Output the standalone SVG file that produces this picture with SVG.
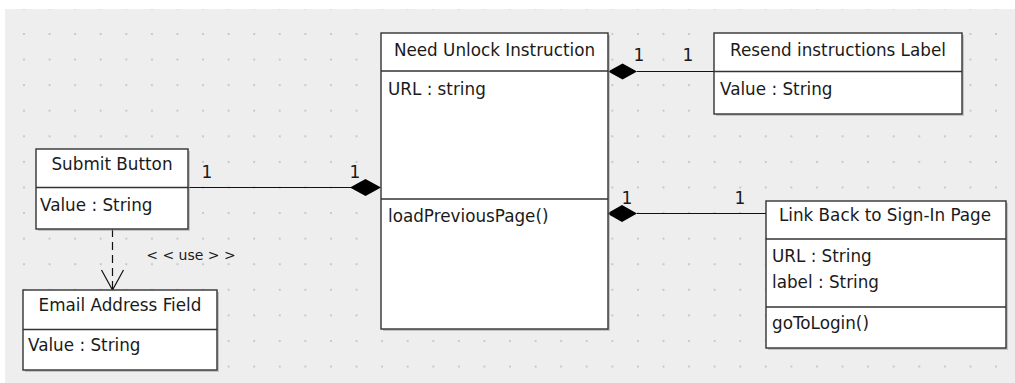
<svg xmlns="http://www.w3.org/2000/svg" width="1015" height="383" viewBox="0 0 1015 383">
<style>
text{font-family:"DejaVu Sans","Liberation Sans",sans-serif;font-size:16.8px;fill:#1a1a1a}
.t{text-anchor:middle}
.box{fill:#fff;stroke:#333;stroke-width:1.4}
.sh{fill:#999;opacity:0.5}
.sep{stroke:#333;stroke-width:1.3}
.ln{stroke:#111;stroke-width:1.2;fill:none}
.dash{stroke:#111;stroke-width:1.2;fill:none;stroke-dasharray:8 5}
.dia{fill:#000}
.m{font-size:17px}
.u{font-size:14px}
</style>
<defs>
<pattern id="grid" patternUnits="userSpaceOnUse" x="23" y="33" width="25.58" height="25.58">
<rect x="0" y="0" width="2" height="2" fill="#c9c9c9"/>
</pattern>
</defs>
<rect x="0" y="0" width="1015" height="383" fill="#fff"/>
<rect x="5" y="9" width="1010" height="374" fill="#eeeeee"/>
<rect x="5" y="9" width="1010" height="374" fill="url(#grid)"/>

<g id="connectors">
<line class="ln" x1="637" y1="71.5" x2="714" y2="71.5"/>
<polygon class="dia" points="608,71.5 622.5,63.5 637,71.5 622.5,79.5"/>
<line class="ln" x1="188" y1="187.5" x2="351" y2="187.5"/>
<polygon class="dia" points="350,187.5 365.5,179 381,187.5 365.5,196"/>
<line class="ln" x1="637" y1="213.5" x2="766" y2="213.5"/>
<polygon class="dia" points="607,213.5 622,205 637,213.5 622,222"/>
<line class="dash" x1="112.5" y1="229" x2="112.5" y2="290"/>
<polyline class="ln" points="101.5,270 112.5,290 123.5,270"/>
<text class="m" x="639" y="61" text-anchor="middle">1</text>
<text class="m" x="688" y="61" text-anchor="middle">1</text>
<text class="m" x="207" y="178" text-anchor="middle">1</text>
<text class="m" x="355" y="178" text-anchor="middle">1</text>
<text class="m" x="627" y="204" text-anchor="middle">1</text>
<text class="m" x="740" y="204" text-anchor="middle">1</text>
<text class="u" x="191" y="260" text-anchor="middle">&lt; &lt; use &gt; &gt;</text>
</g>

<g id="need-unlock">
<rect class="sh" x="383" y="35" width="227" height="296"/>
<rect class="box" x="381" y="33" width="227" height="296"/>
<line class="sep" x1="381" y1="71" x2="608" y2="71"/>
<line class="sep" x1="381" y1="199" x2="608" y2="199"/>
<text class="t" x="494.5" y="56">Need Unlock Instruction</text>
<text x="388" y="95">URL : string</text>
<text x="388" y="222">loadPreviousPage()</text>
</g>

<g id="resend-label">
<rect class="sh" x="716" y="35" width="248" height="81"/>
<rect class="box" x="714" y="33" width="248" height="81"/>
<line class="sep" x1="714" y1="71.5" x2="962" y2="71.5"/>
<text class="t" x="838" y="56">Resend instructions Label</text>
<text x="720" y="95">Value : String</text>
</g>

<g id="submit-button">
<rect class="sh" x="38" y="151" width="152" height="80"/>
<rect class="box" x="36" y="149" width="152" height="80"/>
<line class="sep" x1="36" y1="187.5" x2="188" y2="187.5"/>
<text class="t" x="112" y="170">Submit Button</text>
<text x="40" y="211">Value : String</text>
</g>

<g id="email-field">
<rect class="sh" x="25" y="292" width="194" height="80"/>
<rect class="box" x="23" y="290" width="194" height="80"/>
<line class="sep" x1="23" y1="329.5" x2="217" y2="329.5"/>
<text class="t" x="120" y="311">Email Address Field</text>
<text x="28" y="351">Value : String</text>
</g>

<g id="link-back">
<rect class="sh" x="768" y="203" width="240" height="147"/>
<rect class="box" x="766" y="201" width="240" height="147"/>
<line class="sep" x1="766" y1="239" x2="1006" y2="239"/>
<line class="sep" x1="766" y1="307" x2="1006" y2="307"/>
<text class="t" x="885" y="221">Link Back to Sign-In Page</text>
<text x="772" y="262">URL : String</text>
<text x="772" y="288">label : String</text>
<text x="772" y="329">goToLogin()</text>
</g>
</svg>
